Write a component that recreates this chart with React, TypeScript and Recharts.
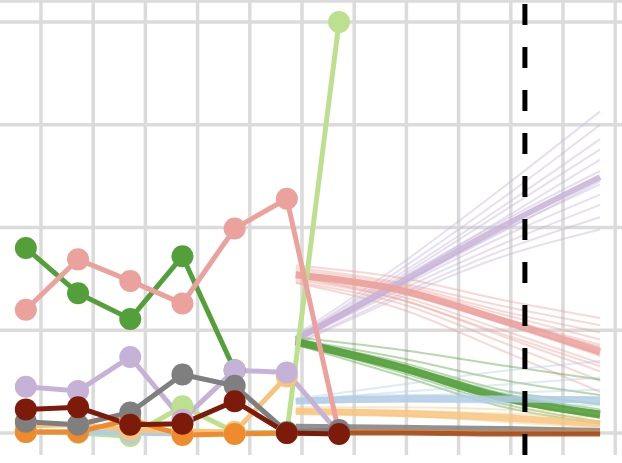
import { Line, LineChart, ReferenceLine, XAxis, YAxis } from "recharts";

// axis frame
const xDomain: [number, number] = [2009.215, 2021.13];
const yDomain: [number, number] = [-0.214, 4.214];
const gridX = [2010, 2011, 2012, 2013, 2014, 2015, 2016, 2017, 2018, 2019, 2020, 2021];
const gridY = [0, 1, 2, 3, 4, 4.205];
const cutoffX = 2019.27;

// observed points
const histX = [2009.71, 2010.71, 2011.71, 2012.71, 2013.71, 2014.71, 2015.71];
const lightBlueHist = [0.01, 0.01, 0.0, -0.01, 0.0, 0.0];
const orangeHist = [0.01, 0.01, 0.13, -0.02, -0.01, 0.0, 0.0];
const lightOrangeHist = [0.07, 0.08, 0.03, 0.02, 0.01, 0.55];
const lightGreenHist = [0.01, 0.0, -0.03, 0.26, 0.01, 0.0, 4.0];
const greenHist = [1.8, 1.36, 1.11, 1.72, 0.61];
const pinkHist = [1.2, 1.69, 1.48, 1.26, 1.99, 2.28, 0.0];
const lavenderHist = [0.45, 0.41, 0.74, 0.13, 0.61, 0.59, 0.0];
const grayHist = [0.11, 0.08, 0.2, 0.57, 0.46, 0.01, 0.03];
const maroonHist = [0.23, 0.25, 0.08, 0.09, 0.31, 0.0, -0.01];

// projections
const projX = [2014.88, 2016.88, 2018.8, 2020.71];

const lavenderMedian = [0.91, 1.46, 2.0, 2.49];
const lavenderRuns = [
  [0.95, 1.64, 2.37, 3.13],
  [0.93, 1.59, 2.27, 3.0],
  [0.93, 1.55, 2.19, 2.86],
  [0.91, 1.52, 2.14, 2.76],
  [0.91, 1.49, 2.07, 2.66],
  [0.92, 1.5, 2.05, 2.55],
  [0.9, 1.44, 1.95, 2.45],
  [0.9, 1.45, 1.96, 2.42],
  [0.89, 1.42, 1.9, 2.32],
  [0.89, 1.39, 1.83, 2.22],
  [0.87, 1.35, 1.77, 2.1],
  [0.86, 1.32, 1.71, 1.98],
];

const pinkMedian = [1.54, 1.39, 1.1, 0.79];
const pinkRuns = [
  [1.63, 1.51, 1.3, 1.12],
  [1.61, 1.46, 1.24, 1.05],
  [1.59, 1.44, 1.19, 0.98],
  [1.57, 1.42, 1.16, 0.91],
  [1.56, 1.41, 1.13, 0.83],
  [1.55, 1.38, 1.1, 0.84],
  [1.55, 1.4, 1.12, 0.86],
  [1.53, 1.37, 1.08, 0.77],
  [1.53, 1.36, 1.07, 0.75],
  [1.51, 1.33, 1.01, 0.68],
  [1.49, 1.3, 0.95, 0.6],
  [1.47, 1.26, 0.89, 0.51],
  [1.46, 1.21, 0.81, 0.4],
  [1.52, 1.3, 0.97, 0.65],
];

const greenMedian = [0.89, 0.64, 0.35, 0.18];
const greenRuns = [
  [0.93, 0.81, 0.66, 0.52],
  [0.91, 0.73, 0.52, 0.37],
  [0.9, 0.69, 0.42, 0.28],
  [0.9, 0.66, 0.37, 0.2],
  [0.89, 0.65, 0.36, 0.21],
  [0.88, 0.63, 0.34, 0.17],
  [0.88, 0.62, 0.33, 0.15],
  [0.87, 0.61, 0.32, 0.16],
  [0.87, 0.59, 0.29, 0.11],
  [0.91, 0.67, 0.39, 0.23],
  [0.86, 0.56, 0.26, 0.09],
];

const lightBlueMedian = [0.31, 0.33, 0.33, 0.32];
const lightBlueRuns = [
  [0.33, 0.47, 0.6, 0.7],
  [0.32, 0.4, 0.47, 0.54],
  [0.31, 0.36, 0.39, 0.42],
  [0.3, 0.31, 0.29, 0.27],
  [0.33, 0.37, 0.35, 0.35],
];

const lightOrangeMedian = [0.21, 0.19, 0.15, 0.09];
const lightOrangeRuns = [
  [0.25, 0.25, 0.23, 0.2],
  [0.21, 0.17, 0.11, 0.05],
  [0.23, 0.22, 0.19, 0.15],
];

const grayMedian = [0.06, 0.05, 0.04, 0.02];
const orangeMedian = [0.01, 0.01, 0.0, 0.0];
const maroonMedian = [0.0, 0.0, -0.01, -0.01];

const C = {
  lightBlue: "#b0cce6",
  orange: "#ef8b2c",
  lightOrange: "#f8c37b",
  lightGreen: "#bde08f",
  green: "#53a03a",
  pink: "#eba19c",
  lavender: "#c6b2d7",
  gray: "#7f7f7f",
  maroon: "#7d1b0b",
};

const fans = [
  { name: "lavender", color: C.lavender, median: lavenderMedian, runs: lavenderRuns, width: 6 },
  { name: "pink", color: C.pink, median: pinkMedian, runs: pinkRuns, width: 7 },
  { name: "green", color: C.green, median: greenMedian, runs: greenRuns, width: 8 },
  { name: "lightBlue", color: C.lightBlue, median: lightBlueMedian, runs: lightBlueRuns, width: 7 },
  { name: "lightOrange", color: C.lightOrange, median: lightOrangeMedian, runs: lightOrangeRuns, width: 7 },
  { name: "gray", color: C.gray, median: grayMedian, runs: [] as number[][], width: 6 },
  { name: "orange", color: C.orange, median: orangeMedian, runs: [] as number[][], width: 5 },
  { name: "maroon", color: "#a04a22", median: maroonMedian, runs: [] as number[][], width: 5 },
];

const history = [
  { name: "lightGreen", color: C.lightGreen, values: lightGreenHist },
  { name: "lightBlue", color: C.lightBlue, values: lightBlueHist },
  { name: "lightOrange", color: C.lightOrange, values: lightOrangeHist },
  { name: "orange", color: C.orange, values: orangeHist },
  { name: "green", color: C.green, values: greenHist },
  { name: "pink", color: C.pink, values: pinkHist },
  { name: "lavender", color: C.lavender, values: lavenderHist },
  { name: "gray", color: C.gray, values: grayHist },
  { name: "maroon", color: C.maroon, values: maroonHist },
];

const toPoints = (xs: number[], ys: number[]) => ys.map((y, i) => ({ x: xs[i], y }));

const gridColor = "#dbdbdb";

export default function App() {
  return (
    <div style={{ position: "absolute", left: 0, top: 0, background: "#fff" }}>
      <LineChart width={622} height={463} margin={{ top: 0, right: 0, bottom: 8, left: 0 }}>
        <XAxis type="number" dataKey="x" domain={xDomain} allowDataOverflow hide />
        <YAxis type="number" dataKey="y" domain={yDomain} allowDataOverflow hide />
        {gridX.map((v) => (
          <ReferenceLine key={`gx-${v}`} x={v} stroke={gridColor} strokeWidth={3.5} zIndex={-100} />
        ))}
        {gridY.map((v) => (
          <ReferenceLine key={`gy-${v}`} y={v} stroke={gridColor} strokeWidth={3.5} zIndex={-100} />
        ))}

        {fans.map((f) =>
          f.runs.map((r, i) => (
            <Line
              key={`${f.name}-run-${i}`}
              data={toPoints(projX, r)}
              dataKey="y"
              type="monotone"
              stroke={f.color}
              strokeWidth={2}
              strokeOpacity={0.42}
              dot={false}
              activeDot={false}
              isAnimationActive={false}
            />
          )),
        )}
        {fans.map((f) => (
          <Line
            key={`${f.name}-median`}
            data={toPoints(projX, f.median)}
            dataKey="y"
            type="monotone"
            stroke={f.color}
            strokeWidth={f.width}
            strokeOpacity={0.85}
            dot={false}
            activeDot={false}
            isAnimationActive={false}
          />
        ))}

        {history.map((s) => (
          <Line
            key={`${s.name}-hist`}
            data={toPoints(histX, s.values)}
            dataKey="y"
            type="linear"
            stroke={s.color}
            strokeWidth={5}
            dot={{ r: 11, fill: s.color, stroke: s.color, strokeWidth: 0 }}
            activeDot={false}
            isAnimationActive={false}
          />
        ))}

        <ReferenceLine x={cutoffX} stroke="#000" strokeWidth={5} strokeDasharray="21 22" />
      </LineChart>
    </div>
  );
}
